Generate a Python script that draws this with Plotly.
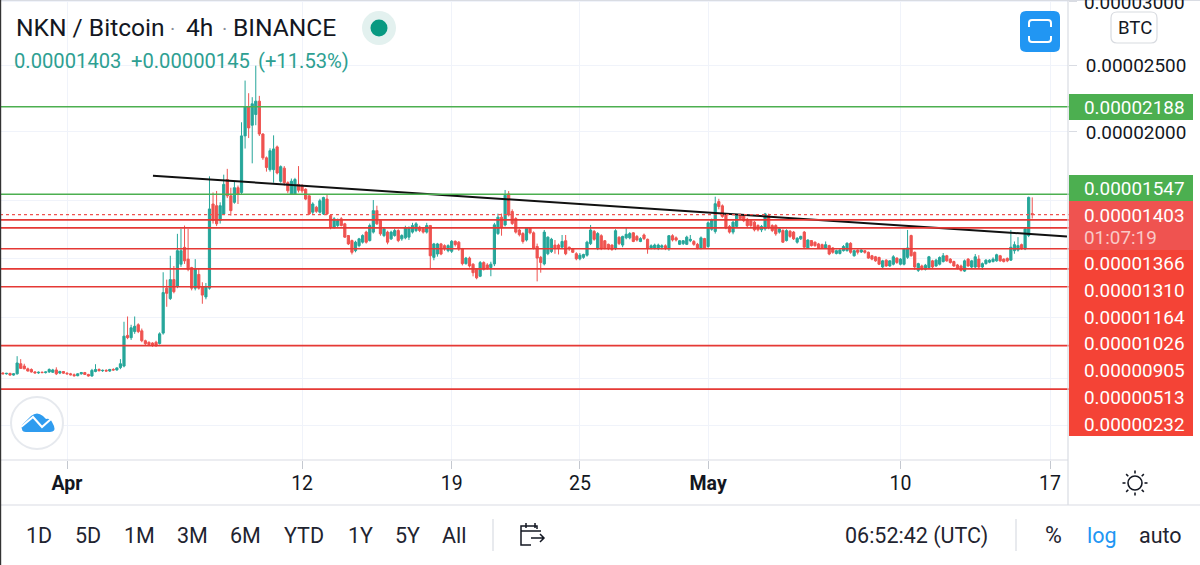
import math, re
import pandas as pd
import plotly.graph_objects as go

# prices in units of 0.00000001 BTC, one row of ten candles per line
opens = [330,335,330,333,322,330,395,380,362,358,
342,336,340,338,342,340,355,335,345,334,
330,324,318,330,338,326,316,345,358,350,
352,348,358,355,370,380,580,565,605,650,
610,545,535,530,535,527,595,895,825,953,
906,1058,1174,1093,1035,895,988,906,836,895,
1478,1466,1361,1408,1653,1536,1490,1594,1560,1971,
2186,2050,2130,2230,1985,1810,1724,1724,1890,1640,
1735,1630,1548,1548,1618,1606,1583,1536,1420,1455,
1420,1408,1513,1396,1315,1326,1373,1338,1256,1221,
1151,1186,1210,1280,1221,1280,1431,1361,1256,1280,
1233,1256,1291,1233,1240,1245,1280,1291,1315,1303,
1280,1326,1105,1128,1198,1186,1151,1147,1216,1210,
1163,1062,1100,1058,1023,976,1069,1053,1035,1060,
1270,1385,1330,1550,1425,1375,1295,1270,1225,1310,
1275,1180,1105,1060,1130,1145,1190,1190,1175,1220,
1175,1165,1130,1095,1105,1120,1200,1285,1165,1255,
1220,1195,1190,1165,1245,1190,1240,1240,1275,1250,
1215,1260,1230,1170,1170,1170,1175,1185,1165,1255,
1240,1195,1200,1195,1220,1215,1195,1170,1235,1180,
1300,1285,1495,1465,1400,1320,1280,1320,1395,1395,
1370,1360,1350,1326,1296,1303,1396,1326,1326,1280,
1291,1221,1286,1280,1210,1233,1280,1170,1221,1210,
1198,1193,1170,1186,1170,1132,1132,1151,1151,1202,
1116,1155,1142,1151,1140,1116,1109,1104,1039,1086,
1046,1058,1100,1058,1058,1105,1256,1140,1016,1046,
1023,1035,1081,1046,1058,1076,1116,1093,1076,1053,
1046,1011,1093,1039,1039,1093,1039,1062,1072,1076,
1081,1116,1093,1098,1086,1151,1155,1193,1163,1256,1410]
highs = [338,340,336,336,335,444,425,395,370,365,
348,345,345,345,365,362,372,350,348,340,
336,332,334,342,342,330,362,392,365,358,
360,362,366,372,425,670,705,650,705,660,
625,552,540,535,545,600,1003,953,1116,1046,
1268,1303,1326,1303,1040,1093,1030,935,930,1676,
1560,1571,1490,1688,1730,1594,1641,1610,2072,2386,
2290,2260,2500,2270,1990,1820,1880,1975,1900,1755,
1750,1640,1660,1665,1750,1620,1590,1540,1490,1465,
1515,1530,1545,1400,1385,1375,1385,1345,1260,1228,
1220,1240,1265,1290,1340,1506,1466,1370,1310,1290,
1290,1305,1300,1265,1325,1320,1345,1350,1325,1315,
1345,1330,1205,1205,1205,1195,1195,1225,1222,1218,
1170,1108,1110,1065,1030,1080,1078,1065,1075,1345,
1410,1410,1578,1570,1440,1385,1305,1280,1315,1315,
1285,1200,1115,1295,1250,1240,1225,1200,1260,1260,
1180,1170,1140,1135,1130,1220,1330,1295,1280,1265,
1225,1200,1195,1300,1250,1255,1315,1280,1280,1260,
1245,1270,1235,1195,1200,1200,1195,1195,1260,1265,
1250,1225,1225,1255,1260,1225,1205,1250,1240,1355,
1375,1530,1515,1475,1410,1330,1360,1405,1410,1405,
1380,1365,1358,1335,1330,1415,1410,1335,1335,1315,
1300,1300,1295,1288,1245,1255,1288,1230,1225,1215,
1205,1200,1215,1192,1175,1158,1165,1190,1210,1210,
1158,1160,1162,1155,1145,1122,1115,1110,1088,1092,
1086,1120,1105,1100,1170,1295,1262,1145,1068,1055,
1060,1115,1088,1095,1112,1135,1122,1100,1082,1060,
1055,1090,1100,1088,1128,1120,1070,1092,1092,1105,
1130,1122,1098,1104,1295,1215,1245,1200,1310,1530,1525]
lows = [322,328,325,318,318,325,365,360,345,338,
332,330,334,332,336,336,322,328,330,325,
320,312,314,325,322,312,312,340,345,342,
344,342,350,350,360,372,555,550,590,595,
535,515,510,505,505,520,585,770,815,860,
895,1040,1060,1010,880,880,885,790,820,885,
1340,1322,1340,1400,1520,1396,1480,1478,1545,1878,
1955,1770,2050,1970,1795,1710,1710,1630,1690,1630,
1610,1555,1545,1545,1560,1555,1505,1400,1400,1415,
1410,1400,1400,1300,1305,1315,1320,1240,1190,1125,
1140,1175,1200,1200,1215,1270,1330,1255,1245,1195,
1225,1248,1210,1220,1230,1225,1270,1280,1280,1270,
1270,1023,1085,1110,1120,1150,1140,1135,1180,1150,
1050,1055,1035,975,955,970,1015,1020,976,1045,
1260,1255,1320,1390,1330,1270,1250,1200,1215,1265,
1160,941,1000,1050,1120,1135,1130,1125,1165,1120,
1150,1135,1085,1085,1095,1110,1190,1220,1155,1155,
1160,1155,1150,1155,1190,1175,1230,1230,1210,1215,
1210,1225,1130,1160,1160,1155,1160,1155,1150,1215,
1215,1190,1190,1190,1210,1185,1160,1160,1165,1170,
1290,1270,1440,1380,1300,1270,1265,1310,1365,1350,
1315,1315,1285,1285,1280,1290,1300,1280,1255,1270,
1205,1215,1240,1225,1200,1225,1170,1165,1180,1178,
1165,1165,1165,1120,1130,1125,1125,1145,1145,1130,
1110,1125,1135,1130,1095,1085,1075,1052,1030,1040,
1040,1050,1060,1050,1050,1095,1110,1020,1005,1015,
1015,1028,1030,1040,1050,1070,1075,1062,1040,1022,
1008,1005,1040,1030,1032,1032,1020,1055,1065,1070,
1075,1075,1070,1072,1080,1130,1145,1158,1155,1245,1375]
closes = [335,330,333,322,330,400,365,362,348,342,
336,340,338,342,358,355,330,345,334,330,
324,318,330,338,326,316,352,358,350,352,
348,358,355,368,395,575,565,630,640,605,
545,525,520,515,512,590,865,860,953,871,
1151,1151,1081,1023,895,1023,895,848,906,1443,
1361,1338,1466,1618,1536,1431,1594,1548,1971,2186,
2030,2210,2230,1985,1810,1740,1862,1875,1700,1746,
1630,1572,1641,1653,1576,1571,1513,1408,1478,1426,
1501,1524,1408,1315,1373,1361,1326,1245,1198,1140,
1210,1233,1256,1210,1326,1431,1338,1268,1303,1210,
1280,1291,1221,1256,1310,1310,1326,1338,1291,1280,
1326,1116,1198,1198,1128,1163,1186,1216,1193,1163,
1062,1100,1046,1000,965,1069,1023,1030,1058,1331,
1385,1310,1540,1400,1340,1280,1262,1215,1310,1275,
1170,1100,1070,1280,1245,1230,1170,1170,1215,1130,
1165,1140,1095,1120,1125,1210,1295,1230,1270,1165,
1170,1165,1160,1290,1200,1250,1265,1270,1215,1225,
1235,1235,1165,1185,1190,1190,1185,1170,1255,1225,
1225,1220,1220,1245,1230,1195,1170,1240,1170,1345,
1365,1480,1460,1390,1310,1280,1350,1395,1375,1360,
1325,1326,1296,1296,1320,1408,1315,1291,1268,1303,
1210,1291,1250,1233,1237,1250,1175,1225,1186,1186,
1170,1170,1193,1128,1140,1151,1155,1180,1202,1140,
1151,1140,1156,1140,1100,1093,1081,1058,1081,1046,
1081,1109,1070,1093,1163,1170,1116,1039,1062,1023,
1051,1109,1039,1086,1104,1116,1081,1070,1046,1030,
1016,1081,1046,1081,1109,1039,1062,1086,1086,1093,
1123,1081,1076,1081,1175,1193,1186,1163,1303,1525,1403]

green_levels = [2188, 1547]
red_levels = [1366, 1310, 1164, 1026, 905, 513, 232]
last_price = 1403
trend_dates = ["2021-04-05 00:30", "2021-05-17 19:00"]
trend_prices = [1680, 1250]
axis_prices = [2500, 2000]
top_price = 3000
grid_prices = [1500, 1100, 700, 300, 0]
date_ticks = ["2021-04-01", "2021-04-12", "2021-04-19", "2021-04-25", "2021-05-01", "2021-05-10", "2021-05-17"]
date_labels = ["<b>Apr</b>", "12", "19", "25", "<b>May</b>", "10", "17"]
range_buttons = [("1D", 39), ("5D", 88), ("1M", 139), ("3M", 192), ("6M", 245), ("YTD", 304), ("1Y", 360), ("5Y", 407), ("All", 454)]

OFFSET = 10800
W, H, PW, PH = 1200, 565, 1068, 460
UP, DOWN = "#26a69a", "#ef5350"
INK = "#131722"
FONT = "Roboto"

def T(p):
    return math.log10(p + OFFSET)

def fmt(p):
    return f"{p / 1e8:.8f}"

def X(x):
    return x / PW

def Y(y):
    return 1 - y / PH

def path(d):
    toks = re.findall(r"[A-Za-z]|-?[\d.]+", d)
    out, isx = [], True
    for t in toks:
        if t.isalpha():
            out.append(t)
            isx = True
        else:
            out.append(f"{X(float(t)):.5f}" if isx else f"{Y(float(t)):.5f}")
            isx = not isx
    return " ".join(out)

times = pd.date_range("2021-03-28 20:00", periods=len(closes), freq="4h")

fig = go.Figure()
fig.add_trace(go.Candlestick(
    x=times, open=[T(v) for v in opens], high=[T(v) for v in highs],
    low=[T(v) for v in lows], close=[T(v) for v in closes],
    increasing=dict(line=dict(color=UP, width=1), fillcolor=UP),
    decreasing=dict(line=dict(color=DOWN, width=1), fillcolor=DOWN),
    whiskerwidth=0, hoverinfo="skip", showlegend=False))
fig.add_trace(go.Scatter(x=pd.to_datetime(trend_dates), y=[T(v) for v in trend_prices], mode="lines",
                         line=dict(color="#111111", width=2), hoverinfo="skip", showlegend=False))

shapes, ann = [], []

def rect(x0, y0, x1, y1, fill, line=None, lw=0):
    shapes.append(dict(type="rect", xref="paper", yref="paper", x0=X(x0), x1=X(x1), y0=Y(y0), y1=Y(y1),
                       fillcolor=fill, line=dict(color=line or fill, width=lw), layer="above"))

def seg(x0, y0, x1, y1, color, w=1):
    shapes.append(dict(type="line", xref="paper", yref="paper", x0=X(x0), x1=X(x1), y0=Y(y0), y1=Y(y1),
                       line=dict(color=color, width=w), layer="above"))

def circle(cx, cy, r, fill, line=None, lw=0):
    shapes.append(dict(type="circle", xref="paper", yref="paper", x0=X(cx - r), x1=X(cx + r), y0=Y(cy - r), y1=Y(cy + r),
                       fillcolor=fill, line=dict(color=line or fill, width=lw), layer="above"))

def poly(d, fill=None, line=None, lw=0):
    shapes.append(dict(type="path", xref="paper", yref="paper", path=path(d), fillcolor=fill or "rgba(0,0,0,0)",
                       line=dict(color=line or "rgba(0,0,0,0)", width=lw), layer="above"))

def text(x, y, s, size=18.9, color=INK, anchor="center"):
    ann.append(dict(xref="paper", yref="paper", x=X(x), y=Y(y), text=s, showarrow=False, xanchor=anchor, yanchor="middle",
                    font=dict(family=FONT, size=size, color=color), borderpad=0, borderwidth=0))

def rounded(x0, y0, x1, y1, r):
    return (f"M {x0+r} {y0} L {x1-r} {y0} Q {x1} {y0} {x1} {y0+r} L {x1} {y1-r} Q {x1} {y1} {x1-r} {y1} "
            f"L {x0+r} {y1} Q {x0} {y1} {x0} {y1-r} L {x0} {y0+r} Q {x0} {y0} {x0+r} {y0} Z")

# horizontal levels on the price axis
for v in green_levels:
    shapes.append(dict(type="line", xref="paper", yref="y", x0=0, x1=1.0075, y0=T(v), y1=T(v),
                       line=dict(color="#4caf50", width=1.6), layer="above"))
for v in red_levels:
    shapes.append(dict(type="line", xref="paper", yref="y", x0=0, x1=1.0075, y0=T(v), y1=T(v),
                       line=dict(color="#e53935", width=1.6), layer="above"))
shapes.append(dict(type="line", xref="paper", yref="y", x0=0, x1=1.0075, y0=T(last_price), y1=T(last_price),
                   line=dict(color="#ef5350", width=1.2, dash="dot"), layer="above"))

# chrome lines
seg(0, 460, 1068, 460, "#d9dce3", 1.2)
seg(1068, 0, 1068, 505, "#d9dce3", 1.2)
seg(0, 505, 1200, 505, "#d9dce3", 1.2)
seg(0, 0.5, 1200, 0.5, "#d9dce3", 1)
rect(0, 0, 1.2, 565, "#333333")

# header
text(16, 28, "NKN / Bitcoin", 24.6, INK, "left")
text(172, 29, "·", 20, "#8a8f99")
text(186, 28, "4h", 24.6, INK, "left")
text(224, 29, "·", 20, "#8a8f99")
text(233, 28, "BINANCE", 24.6, INK, "left")
text(14, 61, "0.00001403", 20.2, "#2e9f92", "left")
text(131, 61, "+0.00000145", 20.2, "#2e9f92", "left")
text(258, 61, "(+11.53%)", 20.2, "#2e9f92", "left")
circle(379, 28, 17, "#e3f1ef")
circle(379, 28, 8.5, "#089981")

# price labels
text(1134, 3, fmt(top_price), 18.9, INK)
rect(1069, 94, 1193, 120, "#4caf50")
text(1134, 107, fmt(green_levels[0]), 18.9, "#ffffff")
rect(1069, 175, 1193, 201, "#4caf50")
text(1134, 188, fmt(green_levels[1]), 18.9, "#ffffff")
rect(1069, 201, 1193, 250, "#ef5350")
text(1134, 215, fmt(last_price), 18.9, "#ffffff")
text(1120, 237, "01:07:19", 18.9, "#f9c9c7")
rect(1069, 250, 1193, 436, "#f44336")
for i, v in enumerate(red_levels):
    text(1134, 263.5 + i * 26.8, fmt(v), 18.9, "#ffffff")

# top right buttons
poly(rounded(1020, 11, 1060, 52, 6), "#2196f3")
poly("M 1029 27 L 1029 23 Q 1029 20 1032 20 L 1048 20 Q 1051 20 1051 23 L 1051 27", None, "#ffffff", 2)
poly("M 1029 36 L 1029 39 Q 1029 42 1032 42 L 1048 42 Q 1051 42 1051 39 L 1051 36", None, "#ffffff", 2)
poly(rounded(1111, 12, 1157, 43, 6), "#ffffff", "#d8dbe0", 1.2)
text(1135, 27.5, "BTC", 18.6)

# sun icon
circle(1135, 483, 7, "#ffffff", INK, 1.6)
for a in range(8):
    c, s = math.cos(a * math.pi / 4), math.sin(a * math.pi / 4)
    seg(1135 + 9.5 * c, 483 + 9.5 * s, 1135 + 12.5 * c, 483 + 12.5 * s, INK, 1.6)

# logo
circle(37, 423, 26, "#ffffff", "#e6e9ee", 2)
poly("M 22 429 Q 20 426 24 423 L 31 416 Q 37 411 43 416 L 46 419 Q 50 418 52 422 L 54 426 Q 56 432 50 432 L 26 432 Q 22 432 22 429 Z", "#2f9cef")
poly("M 21 427 L 33 417 L 42 427 L 51 419", None, "#ffffff", 2)

# bottom toolbar
for label, x in range_buttons:
    text(x, 535.5, label, 21.5, "#1f2430")
seg(493, 519, 493, 551, "#d9dce3", 1.2)
poly("M 537 529 L 537 526 L 521 526 L 521 545 L 531 545 M 521 531 L 541 531 M 526 523 L 526 528 M 535 523 L 535 528", None, INK, 1.5)
poly("M 531 538 L 544 538 M 540 534 L 544 538 L 540 542", None, INK, 1.5)
text(845, 535.5, "06:52:42 (UTC)", 21.5, "#1f2430", "left")
seg(1016, 519, 1016, 551, "#d9dce3", 1.2)
text(1053, 535.5, "%", 23, "#1f2430")
text(1102, 535.5, "log", 21.5, "#2196f3")
text(1160, 535.5, "auto", 21.5, "#1f2430")

y_ticks = axis_prices + grid_prices + [top_price]
y_text = [fmt(v) for v in axis_prices] + [""] * (len(grid_prices) + 1)

fig.update_layout(
    width=W, height=H, margin=dict(l=0, r=W - PW, t=0, b=H - PH, pad=0),
    paper_bgcolor="#ffffff", plot_bgcolor="#ffffff", showlegend=False,
    font=dict(family=FONT, color=INK), boxgap=0.12,
    shapes=shapes, annotations=ann,
    xaxis=dict(type="date", range=["2021-03-28 20:45", "2021-05-17 20:10"], rangeslider=dict(visible=False),
               tickmode="array", tickvals=date_ticks, ticktext=date_labels, tickangle=0,
               showgrid=True, gridcolor="#f0f3fa", gridwidth=1, zeroline=False, showline=False,
               ticks="outside", ticklen=8, tickcolor="#c4c8d0", tickwidth=1,
               tickfont=dict(family=FONT, size=19.5, color=INK), ticklabelstandoff=-2),
    yaxis=dict(side="right", range=[4.02486, 4.14034], tickmode="array", tickvals=[T(v) for v in y_ticks], ticktext=y_text,
               showgrid=True, gridcolor="#f0f3fa", gridwidth=1, zeroline=False, showline=False,
               ticks="outside", ticklen=8, tickcolor="#d9dce3", tickwidth=1,
               tickfont=dict(family=FONT, size=18.9, color=INK), ticklabelstandoff=5),
)
fig.write_html("out.html", config=dict(displayModeBar=False),
               post_script="document.body.style.margin='0';document.documentElement.style.overflow='hidden';")
